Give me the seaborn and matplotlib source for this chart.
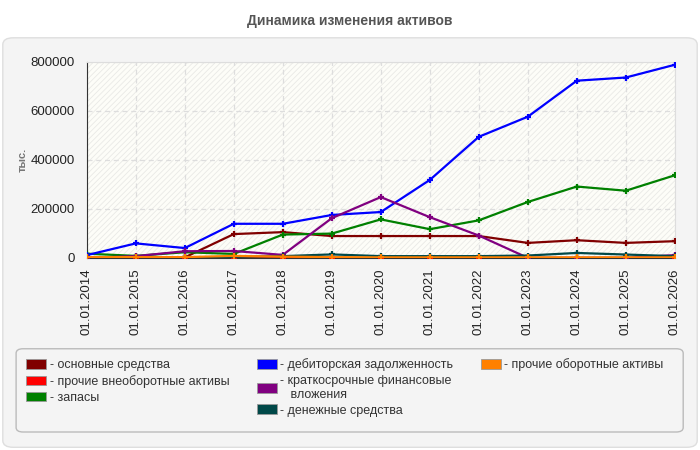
import numpy as np
import pandas as pd
import matplotlib.pyplot as plt
from matplotlib.patches import FancyBboxPatch, Patch, Rectangle
import seaborn as sns

dates = ['01.01.2014', '01.01.2015', '01.01.2016', '01.01.2017', '01.01.2018',
         '01.01.2019', '01.01.2020', '01.01.2021', '01.01.2022', '01.01.2023',
         '01.01.2024', '01.01.2025', '01.01.2026']

osnovnye = [0, 0, 2000, 97000, 105000, 89000, 89000, 89000, 89000, 61000, 72000, 61000, 68000]
proch_vneob = [0, 0, 0, 0, 0, 0, 0, 0, 0, 0, 0, 0, 0]
zapasy = [17000, 8000, 23000, 16000, 95000, 99000, 157000, 117000, 153000, 228000, 291000, 274000, 337000]
debitor = [11000, 59000, 40000, 139000, 139000, 175000, 187000, 318000, 494000, 576000, 723000, 736000, 788000]
kratkosr = [0, 7000, 27000, 28000, 12000, 162000, 248000, 166000, 91000, 0, 0, 0, 11000]
denezhnye = [3000, 3000, 2000, 4000, 7000, 14000, 7000, 7000, 7000, 9500, 20000, 13500, 7000]
proch_ob = [3000, 3000, 3000, 8000, 5000, 3000, 2000, 2000, 2000, 2000, 2000, 2000, 2000]

names = ['основные средства', 'прочие внеоборотные активы', 'запасы',
         'дебиторская задолженность', 'краткосрочные финансовые\n   вложения',
         'денежные средства', 'прочие оборотные активы']
series = [osnovnye, proch_vneob, zapasy, debitor, kratkosr, denezhnye, proch_ob]
colors = ['#800000', '#ff0000', '#008000', '#0000ff', '#800080', '#004848', '#ff8000']

df = pd.concat([pd.DataFrame({'date': dates, 'value': v, 'series': n})
                for n, v in zip(names, series)], ignore_index=True)

sns.set_style('white')
plt.rcParams['font.family'] = ['Liberation Sans', 'DejaVu Sans']
plt.rcParams['hatch.color'] = '#e9e9e6'
plt.rcParams['hatch.linewidth'] = 0.6

fig = plt.figure(figsize=(7, 4.5), dpi=100)
fig.patch.set_facecolor('white')

# outer panel
panel = FancyBboxPatch((0.004, 0.006), 0.992, 0.91, boxstyle='round,pad=0,rounding_size=0.015',
                       transform=fig.transFigure, facecolor='#f4f4f4', edgecolor='#dedede',
                       linewidth=1, zorder=-10)
fig.patches.append(panel)

fig.text(0.5, 0.954, 'Динамика изменения активов', ha='center', va='center',
         fontsize=10, fontweight='bold', color='#555555')

ax = fig.add_axes([0.124, 0.427, 0.84, 0.4356])
ax.set_facecolor('#fdfdf8')
ax.add_patch(Rectangle((0, 0), 1, 1, transform=ax.transAxes, facecolor='none',
                       hatch='//////', edgecolor='#e9e9e6', linewidth=0, zorder=0))

sns.lineplot(data=df, x='date', y='value', hue='series', palette=colors,
             marker='+', markersize=5, linewidth=1.6,
             legend=False, ax=ax, zorder=3)
for ln in ax.lines:
    ln.set_markeredgecolor(ln.get_color())
    ln.set_markeredgewidth(1.6)

ax.set_xlim(0, len(dates) - 1)
ax.set_ylim(0, 800000)
ax.set_yticks(np.arange(0, 800001, 200000))
ax.set_yticklabels([str(int(t)) for t in np.arange(0, 800001, 200000)])
ax.set_xticks(range(len(dates)))
ax.set_xticklabels(dates, rotation=90)
ax.tick_params(axis='both', labelsize=9.5, colors='#222222', direction='out')
ax.tick_params(axis='x', length=4, width=1, color='#444444')
ax.tick_params(axis='y', length=5, width=1, color='#444444')
ax.grid(True, color='#dddddd', linestyle=(0, (4, 3)), linewidth=0.9)
ax.set_axisbelow(True)
for s in ['top', 'right']:
    ax.spines[s].set_color('#dddddd')
ax.spines['left'].set_color('#333333')
ax.spines['bottom'].set_color('#333333')
ax.set_xlabel('')
ax.set_ylabel('тыс.', fontsize=8, fontweight='bold', color='#777777', labelpad=2)

handles = [Patch(facecolor=c, edgecolor='#999999', linewidth=0.6, label='- ' + n)
           for c, n in zip(colors, names)]
# two empty slots so the columns hold 3, 3 and 1 entries
blank = Patch(facecolor='none', edgecolor='none', label='')
handles = handles + [blank, blank]
leg = fig.legend(handles=handles, ncol=3, loc='upper left',
                 bbox_to_anchor=(0.03, 0.215, 0.925, 0.0), mode='expand',
                 frameon=False, fontsize=9, handlelength=1.6, handleheight=0.8,
                 handletextpad=0.3, labelspacing=0.3, columnspacing=1.0,
                 borderaxespad=0)
for t in leg.get_texts():
    t.set_color('#333333')

legbox = FancyBboxPatch((0.023, 0.04), 0.953, 0.185, boxstyle='round,pad=0,rounding_size=0.01',
                        transform=fig.transFigure, facecolor='#f4f4f4', edgecolor='#bbbbbb',
                        linewidth=1, zorder=-5)
fig.patches.append(legbox)

fig.savefig('out.png', dpi=100, facecolor=fig.get_facecolor())
